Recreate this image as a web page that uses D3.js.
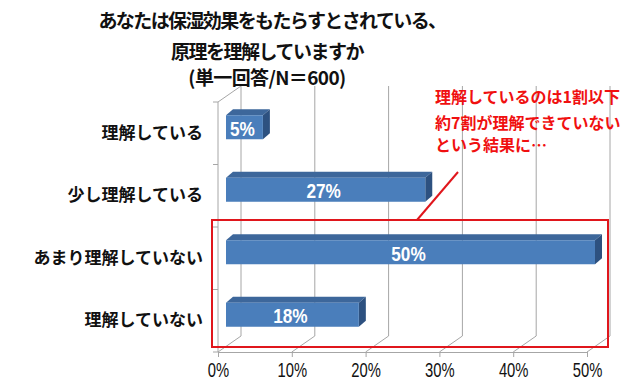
<!DOCTYPE html>
<html><head><meta charset="utf-8">
<script src="https://cdn.jsdelivr.net/npm/d3@7"></script>
<style>
body{margin:0;background:#fff;}
svg{display:block;}
</style></head>
<body>
<svg id="c" width="640" height="384"></svg>
<script>
const categories = ["理解している","少し理解している","あまり理解していない","理解していない"];
const values = [5, 27, 50, 18];
const xTicks = [0, 10, 20, 30, 40, 50];
const titleLines = ["あなたは保湿効果をもたらすとされている、","原理を理解していますか","(単一回答/N＝600)"];
const noteLines = ["理解しているのは1割以下","約7割が理解できていない","という結果に…"];

const svg = d3.select("#c");
const jp = "'Noto Sans CJK JP','Noto Sans CJK SC',sans-serif";
const latin = "'Liberation Sans',Arial,sans-serif";

const x = d3.scaleLinear().domain([0, 50]).range([218, 587]);
const y = d3.scaleBand().domain(categories).range([102, 352]);
const D = {dx: 23, dy: -16};       // wall depth
const F = {dx: 8, dy: -5.5};        // bar front offset
const B = {dx: 7, dy: -6};          // bar thickness
const barH = 24;
const grid = "#a6a6a6";

// back wall gridlines + floor diagonals
const g = svg.append("g");
xTicks.forEach(t => {
  g.append("line").attr("x1", x(t)+D.dx).attr("x2", x(t)+D.dx)
    .attr("y1", y.range()[0]+D.dy).attr("y2", y.range()[1]+D.dy)
    .attr("stroke", grid).attr("stroke-width", 1);
  g.append("line").attr("x1", x(t)).attr("y1", y.range()[1])
    .attr("x2", x(t)+D.dx).attr("y2", y.range()[1]+D.dy)
    .attr("stroke", grid).attr("stroke-width", 1);
});
// left wall
g.append("line").attr("x1", x(0)).attr("x2", x(0)).attr("y1", y.range()[0]).attr("y2", y.range()[1])
  .attr("stroke", grid);
g.append("line").attr("x1", x(0)).attr("y1", y.range()[0]).attr("x2", x(0)+D.dx).attr("y2", y.range()[0]+D.dy)
  .attr("stroke", grid);
// left ticks at band boundaries
const bounds = categories.map(c => y(c)).concat([y.range()[1]]);
bounds.forEach(b => {
  g.append("line").attr("x1", x(0)-5).attr("x2", x(0)).attr("y1", b).attr("y2", b).attr("stroke", grid);
});

// bottom axis
const ax = svg.append("g").attr("transform", `translate(0,${y.range()[1]})`)
  .call(d3.axisBottom(x).tickValues(xTicks).tickFormat(d => d + "%").tickSize(5).tickPadding(6).tickSizeOuter(0));
ax.select(".domain").attr("stroke", grid);
ax.selectAll(".tick line").attr("stroke", grid);
ax.selectAll(".tick text").attr("font-family", latin).attr("font-size", 20).attr("fill", "#111")
  .attr("transform", "scale(0.74,1)");

// left axis labels
const ay = svg.append("g").attr("transform", `translate(${x(0)},0)`)
  .call(d3.axisLeft(y).tickSize(0).tickPadding(15));
ay.select(".domain").remove();
ay.selectAll(".tick text").attr("font-family", jp).attr("font-size", 17).attr("font-weight", 700).attr("fill", "#111");

// bars
const bars = svg.append("g");
categories.forEach((c, i) => {
  const v = values[i];
  const cy = y(c) + y.bandwidth()/2 + F.dy + 1.5;
  const x0 = x(0) + F.dx, x1 = x(v) + F.dx;
  const yt = cy - barH/2 - 2, yb = yt + barH;
  bars.append("path")
    .attr("d", `M${x0},${yt} L${x0+B.dx},${yt+B.dy} L${x1+B.dx},${yt+B.dy} L${x1},${yt} Z`)
    .attr("fill", "#3d679b");
  bars.append("path")
    .attr("d", `M${x1},${yt} L${x1+B.dx},${yt+B.dy} L${x1+B.dx},${yb+B.dy} L${x1},${yb} Z`)
    .attr("fill", "#2d5180");
  bars.append("rect").attr("x", x0).attr("y", yt).attr("width", x1 - x0).attr("height", barH)
    .attr("fill", "#4a7ebb");
  bars.append("g").attr("transform", `translate(${(x0 + x1)/2 - 2},${yt + barH/2 + 1}) scale(0.82,1)`)
    .append("text").attr("dy", "0.36em")
    .attr("text-anchor", "middle").attr("font-family", latin).attr("font-weight", 700)
    .attr("font-size", 21).attr("fill", "#fff").text(v + "%");
});

// title
[[272, 28, -1.6], [267, 59, -1.5], [267, 85, -0.6]].forEach(([xx, yy, ls], i) => {
  svg.append("text").attr("text-anchor", "middle").attr("font-family", jp)
    .attr("font-size", 19).attr("font-weight", 700).attr("fill", "#111")
    .attr("letter-spacing", ls)
    .attr("x", xx).attr("y", yy).text(titleLines[i]);
});

// annotation
const red = "#e0161c";
svg.append("rect").attr("x", 212).attr("y", 220).attr("width", 396).attr("height", 127)
  .attr("fill", "none").attr("stroke", red).attr("stroke-width", 2);
svg.append("line").attr("x1", 417).attr("y1", 220).attr("x2", 458).attr("y2", 172)
  .attr("stroke", red).attr("stroke-width", 2);
const nt = svg.append("text").attr("font-family", jp).attr("font-size", 16).attr("font-weight", 700).attr("fill", "#f01010");
[103, 129, 151].forEach((yy, i) => {
  nt.append("tspan").attr("x", 435).attr("y", yy).text(noteLines[i]);
});
</script>
</body></html>
